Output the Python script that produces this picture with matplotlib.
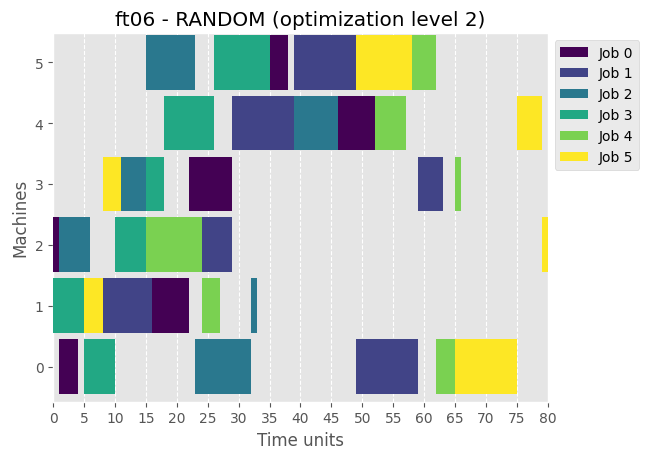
import numpy as np
import matplotlib
matplotlib.use("Agg")
import matplotlib.pyplot as plt

# ft06 schedule: for each job, machine order, start times and durations
jobs = ["Job 0", "Job 1", "Job 2", "Job 3", "Job 4", "Job 5"]
job_machines = [
    [2, 0, 1, 3, 5, 4],
    [1, 2, 4, 5, 0, 3],
    [2, 3, 5, 0, 1, 4],
    [1, 0, 2, 3, 4, 5],
    [2, 1, 4, 5, 0, 3],
    [1, 3, 5, 0, 4, 2],
]
job_starts = [
    [0, 1, 16, 22, 35, 46],
    [8, 24, 29, 39, 49, 59],
    [1, 11, 15, 23, 32, 39],
    [0, 5, 10, 15, 18, 26],
    [15, 24, 52, 58, 62, 65],
    [5, 8, 49, 65, 75, 79],
]
job_durations = [
    [1, 3, 6, 7, 3, 6],
    [8, 5, 10, 10, 10, 4],
    [5, 4, 8, 9, 1, 7],
    [5, 5, 5, 3, 8, 9],
    [9, 3, 5, 4, 3, 1],
    [3, 3, 9, 10, 4, 1],
]
machines = [0, 1, 2, 3, 4, 5]
xticks = np.arange(0, 81, 5)

plt.style.use("ggplot")
fig, ax = plt.subplots(figsize=(6.49, 4.6), dpi=100)
fig.subplots_adjust(left=0.082, right=0.844, bottom=0.125, top=0.926)

colors = plt.cm.viridis(np.linspace(0, 1, len(jobs)))
for j, name in enumerate(jobs):
    ax.barh(job_machines[j], job_durations[j], left=job_starts[j],
            height=0.9, color=colors[j], label=name, zorder=3)

ax.set_title("ft06 - RANDOM (optimization level 2)")
ax.set_xlabel("Time units")
ax.set_ylabel("Machines")
ax.set_xticks(xticks)
ax.set_yticks(machines)
ax.set_xlim(0, 80)
ax.set_ylim(-0.575, 5.48)
ax.grid(False)
ax.grid(axis="x", linestyle="--", color="white", zorder=0)
ax.set_axisbelow(True)
ax.legend(loc="upper left", bbox_to_anchor=(1.0, 1))

fig.savefig("out.png", dpi=100)
